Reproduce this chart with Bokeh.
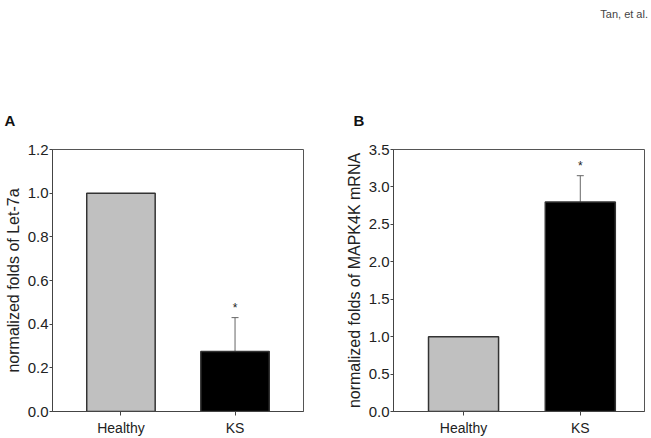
from bokeh.plotting import figure
from bokeh.models import (Range1d, FixedTicker, NumeralTickFormatter, Title,
                          Whisker, ColumnDataSource, TeeHead, Div)
from bokeh.layouts import row, column
from bokeh.embed import file_html
from bokeh.resources import INLINE
from bokeh.core.properties import value

# ---- data ----
categories = ["Healthy", "KS"]
bar_colors = ["#c0c0c0", "#000000"]

let7a_values = [1.0, 0.275]
let7a_errors = [0.0, 0.155]
let7a_ticks = [0.0, 0.2, 0.4, 0.6, 0.8, 1.0, 1.2]

mapk_values = [1.0, 2.8]
mapk_errors = [0.0, 0.35]
mapk_ticks = [0.0, 0.5, 1.0, 1.5, 2.0, 2.5, 3.0, 3.5]

significant = ["", "*"]

FONT = "Liberation Sans"
TXT = "#222222"
FIG_H = 414


def panel(values, errors, ticks, ylabel, width, xr, bl, br, letter, letter_off):
    xs = list(range(len(categories)))
    p = figure(width=width, height=FIG_H, output_backend="svg", toolbar_location=None,
               x_range=Range1d(*xr), y_range=Range1d(ticks[0], ticks[-1]),
               min_border_left=bl, min_border_right=br, min_border_top=125,
               min_border_bottom=27)
    p.grid.visible = False
    p.outline_line_color = "#555555"
    p.outline_line_width = 1
    p.background_fill_color = "white"
    p.border_fill_color = "white"

    p.title.text = letter
    p.title.align = "left"
    p.title.offset = letter_off
    p.title.standoff = 41
    p.title.text_font = FONT
    p.title.text_font_size = "15px"
    p.title.text_font_style = "bold"
    p.title.text_color = "#111111"

    src = ColumnDataSource(dict(x=xs, top=values, color=bar_colors))
    p.vbar(x="x", top="top", width=0.6, bottom=0, source=src, fill_color="color",
           line_color="#333333", line_width=1.5)

    ex = [x for x, e in zip(xs, errors) if e > 0]
    elo = [v for v, e in zip(values, errors) if e > 0]
    ehi = [v + e for v, e in zip(values, errors) if e > 0]
    wsrc = ColumnDataSource(dict(x=ex, lower=elo, upper=ehi))
    w = Whisker(base="x", lower="lower", upper="upper", source=wsrc,
                line_color="#666666", line_width=1,
                upper_head=TeeHead(size=7, line_color="#666666", line_width=1),
                lower_head=None)
    p.add_layout(w)

    sx = [x for x, s in zip(xs, significant) if s]
    sy = [v + e for v, e, s in zip(values, errors, significant) if s]
    st = [s for s in significant if s]
    p.text(x=sx, y=sy, text=st, text_align="center", text_baseline="bottom",
           y_offset=-3, text_font=value(FONT), text_font_size="12px",
           text_color=TXT)

    xa = p.xaxis[0]
    xa.ticker = FixedTicker(ticks=xs)
    xa.major_label_overrides = {i: c for i, c in enumerate(categories)}
    xa.major_tick_in = 0
    xa.major_tick_out = 4
    xa.minor_tick_line_color = None
    xa.axis_line_color = "#444444"
    xa.major_tick_line_color = "#444444"
    xa.major_label_text_font = FONT
    xa.major_label_text_font_size = "14px"
    xa.major_label_text_color = TXT
    xa.major_label_standoff = 4

    ya = p.yaxis[0]
    ya.ticker = FixedTicker(ticks=ticks)
    ya.formatter = NumeralTickFormatter(format="0.0")
    ya.major_tick_in = 0
    ya.major_tick_out = 3
    ya.minor_tick_line_color = None
    ya.axis_line_color = "#444444"
    ya.major_tick_line_color = "#444444"
    ya.major_label_text_font = FONT
    ya.major_label_text_font_size = "15px"
    ya.major_label_text_color = TXT
    ya.major_label_standoff = 1
    ya.axis_label = ylabel
    ya.axis_label_text_font = FONT
    ya.axis_label_text_font_size = "16px"
    ya.axis_label_text_font_style = "normal"
    ya.axis_label_text_color = TXT
    ya.axis_label_standoff = 3
    return p


p1 = panel(let7a_values, let7a_errors, let7a_ticks, "normalized folds of Let-7a",
           330, (-0.6, 1.6), 52, 27, "A", -48)
p2 = panel(mapk_values, mapk_errors, mapk_ticks, "normalized folds of MAPK4K mRNA",
           318, (-0.6, 1.55), 63, 4, "B", -40)

header = Div(text=('<div style="display:block;width:640px;text-align:right;'
                   'font-family:\'Liberation Sans\';font-size:11px;color:#444444;'
                   'padding-top:7px;">Tan, et al.</div>'),
             width=648, height=24, margin=(0, 0, 0, 0),
             styles={"text-align": "right"})

layout = column(header, row(p1, p2))
open("out.html", "w").write(file_html(layout, INLINE))
